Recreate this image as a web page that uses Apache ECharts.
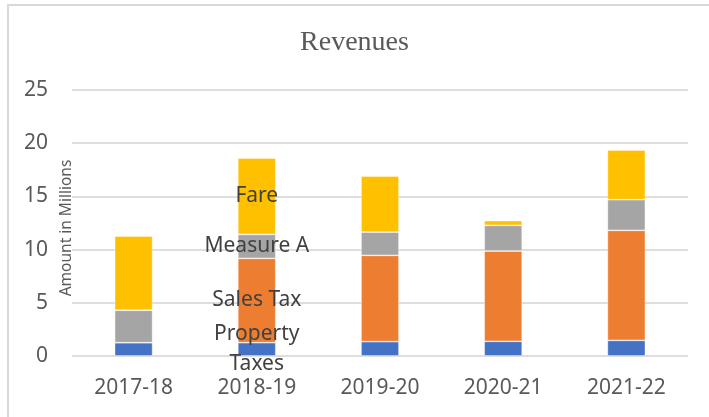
<!DOCTYPE html>
<html>
<head>
<meta charset="utf-8">
<script src="https://cdn.jsdelivr.net/npm/echarts@6/dist/echarts.min.js"></script>
<style>
  html, body { margin: 0; padding: 0; background: #fff; }
  #chart { width: 709px; height: 417px; }
</style>
</head>
<body>
<div id="chart"></div>
<script>
// Fiscal years on the category axis
const years = ['2017-18', '2018-19', '2019-20', '2020-21', '2021-22'];

// Revenue sources, in millions
const propertyTaxes = [1.25, 1.25, 1.35, 1.38, 1.47];
const salesTax      = [0,    7.93, 8.11, 8.49, 10.34];
const measureA      = [3.05, 2.25, 2.19, 2.41, 2.88];
const fare          = [6.98, 7.17, 5.25, 0.44, 4.67];

// Value-axis ticks
const yTicks = [0, 5, 10, 15, 20, 25];

// Series names are printed inside the 2018-19 column
const labelIndex = 1;

const sources = [
  { name: 'Property Taxes', label: 'Property\nTaxes', values: propertyTaxes, color: '#4472C4' },
  { name: 'Sales Tax',      label: 'Sales Tax',        values: salesTax,      color: '#ED7D31' },
  { name: 'Measure A',      label: 'Measure A',        values: measureA,      color: '#A5A5A5' },
  { name: 'Fare',           label: 'Fare',             values: fare,          color: '#FFC000' }
];

const textFont = '"Noto Sans", "Open Sans", sans-serif';

const chart = echarts.init(document.getElementById('chart'));

chart.setOption({
  animation: false,
  backgroundColor: '#ffffff',
  graphic: [{
    type: 'rect',
    shape: { x: 8, y: 5, width: 720, height: 440 },
    style: { fill: 'none', stroke: '#d9d9d9', lineWidth: 2 },
    silent: true,
    z: -1
  }],
  title: {
    text: 'Revenues',
    left: 'center',
    top: 24,
    textStyle: {
      fontFamily: '"Liberation Serif", "DejaVu Serif", serif',
      fontSize: 28,
      fontWeight: 'normal',
      color: '#595959'
    }
  },
  grid: { left: 72, right: 21, top: 90, bottom: 61 },
  xAxis: {
    type: 'category',
    data: years,
    axisLine: { show: false },
    axisTick: { show: false },
    axisLabel: {
      margin: 22,
      fontFamily: textFont,
      fontSize: 21,
      lineHeight: 21,
      color: '#595959'
    }
  },
  yAxis: {
    type: 'value',
    min: yTicks[0],
    max: yTicks[yTicks.length - 1],
    interval: yTicks[1] - yTicks[0],
    name: 'Amount in Millions',
    nameLocation: 'middle',
    nameGap: -3,
    nameRotate: 90,
    nameMoveOverlap: false,
    nameTextStyle: {
      fontFamily: textFont,
      fontSize: 15.5,
      color: '#595959',
      padding: [0, 10, 0, 0]
    },
    axisLine: { show: false },
    axisTick: { show: false },
    axisLabel: {
      margin: 24,
      fontFamily: textFont,
      fontSize: 21,
      color: '#595959'
    },
    splitLine: { lineStyle: { color: '#dedede', width: 2 } }
  },
  series: sources.map(src => ({
    name: src.name,
    type: 'bar',
    stack: 'revenue',
    barWidth: 38,
    itemStyle: {
      color: src.color,
      borderColor: 'rgba(255,255,255,0.5)',
      borderWidth: 0.8
    },
    data: src.values.map((v, i) => i === labelIndex
      ? {
          value: v,
          label: {
            show: true,
            position: 'inside',
            formatter: src.label,
            fontFamily: textFont,
            fontSize: 21,
            lineHeight: 30,
            color: '#404040'
          }
        }
      : v)
  }))
});
</script>
</body>
</html>
